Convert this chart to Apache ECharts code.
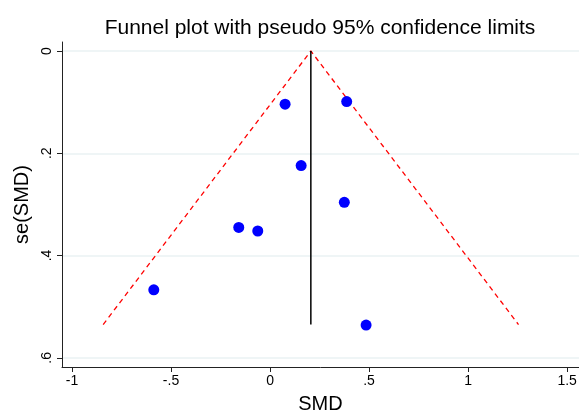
<!DOCTYPE html>
<html><head><meta charset="utf-8">
<script src="https://cdn.jsdelivr.net/npm/echarts@6/dist/echarts.min.js"></script>
<style>html,body{margin:0;padding:0;background:#fff}#c{width:579px;height:412px}</style>
</head><body><div id="c"></div>
<script>
const smd = [0.076, 0.387, 0.157, 0.375, -0.158, -0.062, -0.587, 0.485];
const seSmd = [0.104, 0.099, 0.224, 0.296, 0.345, 0.352, 0.467, 0.536];
const pooled = 0.206;
const seMax = 0.535;
const xTicks = [-1, -0.5, 0, 0.5, 1, 1.5];
const yTicks = [0, 0.2, 0.4, 0.6];
const fmt = v => { let s = String(+v.toFixed(2)); return s.replace(/^0\./,'.').replace(/^-0\./,'-.'); };

const points = smd.map((x,i)=>[x, seSmd[i]]);
const funnel = [[pooled-1.96*seMax, seMax],[pooled,0],[pooled+1.96*seMax, seMax]];
const vline = [[pooled,0],[pooled,seMax]];
const font = 'Liberation Sans, Arial, sans-serif';
const chart = echarts.init(document.getElementById('c'));
chart.setOption({
  animation:false,
  title:{text:'Funnel plot with pseudo 95% confidence limits', left:315, textAlign:'center', top:13,
    textStyle:{fontFamily:font, fontSize:21, fontWeight:'normal', color:'#000'}},
  grid:{left:62, right:0, top:42, bottom:45, containLabel:false, outerBoundsMode:'none'},
  xAxis:{type:'value', min:-1.0505, max:1.56,
    name:'SMD', nameLocation:'middle', nameGap:27,
    nameTextStyle:{fontFamily:font, fontSize:20, color:'#000'},
    axisLine:{show:true, onZero:false, lineStyle:{color:'#222', width:1}},
    axisTick:{show:true, length:5, customValues:xTicks, lineStyle:{color:'#222'}},
    axisLabel:{customValues:xTicks, formatter:fmt, fontFamily:font, fontSize:14, color:'#000', margin:7},
    splitLine:{show:false}},
  yAxis:{type:'value', inverse:true, min:-0.0176, max:0.618,
    name:'se(SMD)', nameLocation:'middle', nameGap:26,
    nameTextStyle:{fontFamily:font, fontSize:20, color:'#000'},
    axisLine:{show:true, onZero:false, lineStyle:{color:'#222', width:1}},
    axisTick:{show:true, length:5, customValues:yTicks, lineStyle:{color:'#222'}},
    axisLabel:{customValues:yTicks, formatter:fmt, rotate:90, fontFamily:font, fontSize:14, color:'#000', margin:8},
    splitLine:{show:false}},
  series:[
    {type:'line', data:[], silent:true, z:0, zlevel:0,
     markLine:{symbol:'none', silent:true, label:{show:false}, z:0,
       lineStyle:{color:'#eaf2f3', width:1.5, type:'solid'},
       data:yTicks.map(v=>({yAxis:v}))}},
    {type:'line', data:funnel, symbol:'none', lineStyle:{color:'#ff0000', width:1.3, type:[5,4]}, z:5},
    {type:'line', data:vline, symbol:'none', lineStyle:{color:'#000', width:1.5}, z:5},
    {type:'scatter', data:points, symbol:'circle', symbolSize:11, itemStyle:{color:'#0000ff', opacity:1}, z:6}
  ]
});
</script></body></html>
